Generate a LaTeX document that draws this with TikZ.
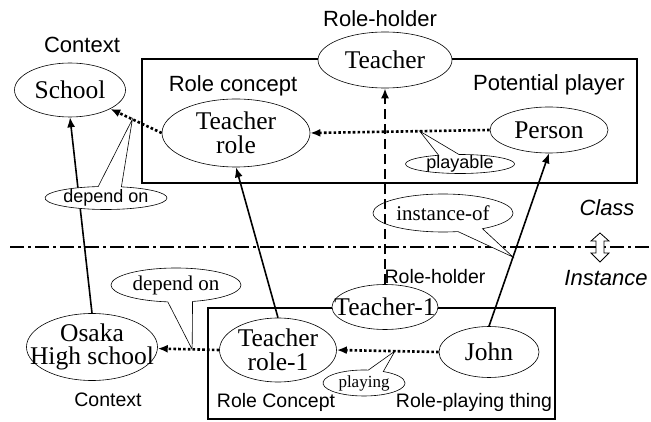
\documentclass[tikz,border=0pt]{standalone}
\usepackage{fontspec}
\setmainfont{Liberation Serif}
\setsansfont{Liberation Sans}
\usepackage{tikz}
\usetikzlibrary{shapes,shapes.callouts,arrows.meta,positioning,calc}
\tikzset{
    % Base ellipse style
    conceptnode/.style={
        ellipse,
        draw=black,
        fill=white,
        line width=0.6pt,
        inner sep=-20pt,
        align=center,
        font=\fontsize{25.5}{23.5}\selectfont
    },
    % Heading label style
    labelnode/.style={
        inner sep=0pt,
        font=\sffamily\fontsize{22}{22}\selectfont
    },
    % Small heading label
    smalllabel/.style={
        labelnode,
        font=\sffamily\fontsize{19.5}{19.5}\selectfont
    },
    % Italic layer label
    layerlabel/.style={
        labelnode,
        font=\sffamily\itshape\fontsize{22}{22}\selectfont
    },
    % Frame box
    framebox/.style={
        rectangle,
        draw=black,
        line width=2pt,
        inner sep=0pt
    },
    % Callout bubble
    bubble/.style={
        ellipse callout,
        draw=black,
        fill=white,
        line width=0.6pt,
        inner sep=-20pt,
        callout pointer arc=22,
        font=\fontsize{21}{21}\selectfont
    },
    % Sans callout bubble
    bubblesans/.style={
        bubble,
        font=\sffamily\fontsize{18}{18}\selectfont
    },
    % Arrow styles
    myarrow/.style={
        -{Latex[length=10pt,width=8pt]},
        line width=1.6pt,
        draw=black
    },
    dotarrow/.style={
        myarrow,
        line width=2.6pt,
        dash pattern=on 2.6pt off 2.2pt
    },
    dasharrow/.style={
        myarrow,
        line width=2.6pt,
        dash pattern=on 10pt off 5pt
    },
    % Class / instance divider
    divider/.style={
        line width=1.2pt,
        dash pattern=on 14pt off 4pt on 3pt off 4pt
    }
}

\begin{document}
\begin{tikzpicture}[x=1pt, y=-1pt]
    \useasboundingbox (0,0) rectangle (651,422);

    % frames
    \node[framebox, minimum width=495, minimum height=124] (classbox) at (389.5,121) {};
    \node[framebox, minimum width=347, minimum height=111] (instbox) at (381.5,363.5) {};

    % divider
    \draw[divider] (10,247) -- (651,247);
    \draw[line width=0.8pt, fill=white] (596,241) -- (591,241) -- (600,233) -- (609,241) -- (604,241)
        -- (604,253) -- (609,253) -- (600,262) -- (591,253) -- (596,253) -- cycle;

    % class level
    \node[conceptnode, minimum width=134, minimum height=56] (teacher) at (385,60) {Teacher};
    \node[conceptnode, minimum width=111, minimum height=54] (school) at (70,90) {School};
    \node[conceptnode, minimum width=148, minimum height=68] (trole) at (236,133) {Teacher\\role};
    \node[conceptnode, minimum width=118, minimum height=46] (person) at (549,130) {Person};

    % instance level
    \node[conceptnode, minimum width=106, minimum height=45] (teacherone) at (385,307) {Teacher-1};
    \node[conceptnode, minimum width=100, minimum height=51] (john) at (489,352) {John};
    \node[conceptnode, minimum width=117, minimum height=64] (troleone) at (278,350) {Teacher\\role-1};
    \node[conceptnode, minimum width=131, minimum height=67] (osaka) at (92,347) {Osaka\\High school};

    % labels
    \node[labelnode] (rhlabel) at (380,19) {Role-holder};
    \node[labelnode] (ctxlabel) at (82,45) {Context};
    \node[labelnode] (rclabel) at (233,86) {Role concept};
    \node[labelnode] (pplabel) at (549,85) {Potential player};
    \node[layerlabel] (classlabel) at (607,208) {Class};
    \node[layerlabel] (instlabel) at (606,278) {Instance};
    \node[smalllabel] (rhlabelb) at (435,277) {Role-holder};
    \node[smalllabel] (ctxlabelb) at (108,400) {Context};
    \node[smalllabel] (rclabelb) at (276,402) {Role Concept};
    \node[smalllabel] (rptlabel) at (474,402) {Role-playing thing};

    % links
    \draw[dotarrow] (trole.west) -- coordinate[pos=0.57] (dtipa) (school);
    \draw[dotarrow] (person.west) -- coordinate[pos=0.39] (ptip) (trole.east);
    \draw[dotarrow] (troleone.west) -- coordinate[pos=0.44] (dtipb) (osaka);
    \draw[dotarrow] (john.west) -- coordinate[pos=0.43] (gtip) (troleone.east);
    \draw[myarrow] (osaka.north) -- (school.south);
    \draw[myarrow] (troleone.north) -- (trole.south);
    \draw[myarrow] (john.north) -- coordinate[pos=0.4] (itip) (person.south);

    % callouts
    \node[bubblesans, minimum width=122, minimum height=23, callout absolute pointer={(dtipa)}] (dependa) at (106,198) {depend on};
    \node[bubblesans, minimum width=109, minimum height=19, callout absolute pointer={(ptip)}] (playable) at (460,164) {playable};
    \node[bubble, minimum width=140, minimum height=38, callout absolute pointer={(itip)}] (instof) at (443,213) {instance-of};
    \node[bubble, minimum width=130, minimum height=34, callout absolute pointer={(dtipb)}] (dependb) at (176,285) {depend on};
    \node[bubble, minimum width=82, minimum height=26, font=\fontsize{17}{17}\selectfont, callout absolute pointer={(gtip)}] (playing) at (364,383) {playing};

    \draw[dasharrow] (teacherone.north) -- (teacher.south);
\end{tikzpicture}
\end{document}
